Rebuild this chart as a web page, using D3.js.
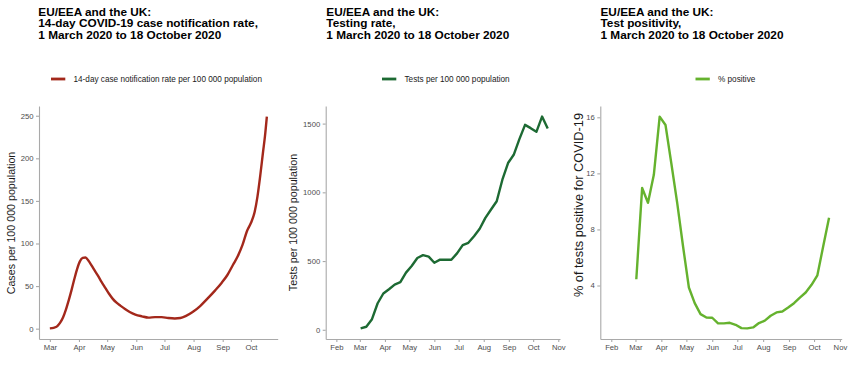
<!DOCTYPE html>
<html>
<head>
<meta charset="utf-8">
<script src="https://cdn.jsdelivr.net/npm/d3@7"></script>
<style>
  body { margin: 0; background: #fff; }
  svg { display: block; font-family: "Liberation Sans", Arial, sans-serif; }
</style>
</head>
<body>
<svg id="chart" width="850" height="387"></svg>
<script>
// 14-day notification rate
const caseDates = [
  "2020-03-01", "2020-03-05", "2020-03-09", "2020-03-12", "2020-03-15", "2020-03-18",
  "2020-03-21", "2020-03-24", "2020-03-27", "2020-03-30", "2020-04-02", "2020-04-05",
  "2020-04-08", "2020-04-11", "2020-04-14", "2020-04-17", "2020-04-21", "2020-04-25",
  "2020-04-29", "2020-05-03", "2020-05-07", "2020-05-11", "2020-05-15", "2020-05-20",
  "2020-05-25", "2020-05-31", "2020-06-07", "2020-06-14", "2020-06-21", "2020-06-28",
  "2020-07-05", "2020-07-12", "2020-07-18", "2020-07-24", "2020-07-31", "2020-08-08",
  "2020-08-16", "2020-08-24", "2020-08-31", "2020-09-06", "2020-09-12", "2020-09-17",
  "2020-09-22", "2020-09-27", "2020-10-01", "2020-10-05", "2020-10-08", "2020-10-11",
  "2020-10-14", "2020-10-16", "2020-10-18"
];
const caseRates = [
  0.3, 1, 3, 7, 13, 22,
  33, 45, 58, 70, 79, 83,
  83.5, 80, 75, 69.5, 62.5, 55,
  48, 41, 35, 30.5, 27, 23,
  19.5, 16.5, 14.5, 13, 13.5, 13.5,
  12.5, 12, 12.5, 15, 19.5, 26.5,
  35.5, 45, 54, 63, 75, 85,
  98, 115, 124, 137, 155, 180,
  208, 226, 249
];

// weekly series (middle and right panels)
const weekDates = [
  "2020-03-02", "2020-03-09", "2020-03-16", "2020-03-23", "2020-03-30", "2020-04-06",
  "2020-04-13", "2020-04-20", "2020-04-27", "2020-05-04", "2020-05-11", "2020-05-18",
  "2020-05-25", "2020-06-01", "2020-06-08", "2020-06-15", "2020-06-22", "2020-06-29",
  "2020-07-06", "2020-07-13", "2020-07-20", "2020-07-27", "2020-08-03", "2020-08-10",
  "2020-08-17", "2020-08-24", "2020-08-31", "2020-09-07", "2020-09-14", "2020-09-21",
  "2020-09-28", "2020-10-05", "2020-10-12", "2020-10-19"
];
const testRates = [
  10, 22, 77, 193, 264, 295, 329, 346, 416, 464, 522, 543,
  532, 488, 510, 510, 510, 556, 616, 633, 681, 735, 814, 875,
  935, 1092, 1213, 1273, 1387, 1491, 1467, 1440, 1551, 1464
];
const positivity = [
  4.45, 10.96, 9.9, 11.9, 16.05, 15.45, 12.7, 9.9, 6.8, 3.86, 2.74, 1.96,
  1.72, 1.7, 1.3, 1.3, 1.34, 1.2, 0.96, 0.94, 1.01, 1.32, 1.49, 1.84,
  2.08, 2.15, 2.43, 2.74, 3.14, 3.5, 4.05, 4.73, 6.8, 8.83
];

const weeklyLimits = ["2020-02-01", "2020-10-21"];

const caseMonths = ["Mar", "Apr", "May", "Jun", "Jul", "Aug", "Sep", "Oct"];
const weekMonths = ["Feb", "Mar", "Apr", "May", "Jun", "Jul", "Aug", "Sep", "Oct", "Nov"];
const caseTicks = [0, 50, 100, 150, 200, 250];
const testTicks = [0, 500, 1000, 1500];
const positivityTicks = [4, 8, 12, 16];

const parseDay = d3.timeParse("%Y-%m-%d");
const parseMonth = (m) => d3.timeParse("%b %d %Y")(`${m} 01 2020`);

const svg = d3.select("#chart");

// ggplot-like 5% expansion on both ends
function expand([a, b]) {
  const pad = (b - a) * 0.05;
  return [a - pad, b + pad];
}
function expandDates([a, b]) {
  const pad = (b - a) * 0.05;
  return [new Date(+a - pad), new Date(+b + pad)];
}

const panels = [
  {
    left: 39, right: 277.7, titleX: 38.3,
    title: ["EU/EEA and the UK:", "14-day COVID-19 case notification rate,", "1 March 2020 to 18 October 2020"],
    legend: "14-day case notification rate per 100 000 population", legendX: 51,
    color: "#a3281b",
    dates: caseDates, values: caseRates, xLimits: null, months: caseMonths, yTicks: caseTicks,
    yLabel: "Cases per 100 000 population", yLabelX: 14.6, yLabelY: 223, yLabelSize: 10.7,
    curve: d3.curveMonotoneX
  },
  {
    left: 325.7, right: 560, titleX: 326.3,
    title: ["EU/EEA and the UK:", "Testing rate,", "1 March 2020 to 18 October 2020"],
    legend: "Tests per 100 000 population", legendX: 382,
    color: "#1d6a33",
    dates: weekDates, values: testRates, xLimits: weeklyLimits, months: weekMonths, yTicks: testTicks,
    yLabel: "Tests per 100 000 population", yLabelX: 296.8, yLabelY: 222.5, yLabelSize: 10.7,
    curve: d3.curveLinear
  },
  {
    left: 600.3, right: 841.7, titleX: 600.5,
    title: ["EU/EEA and the UK:", "Test positivity,", "1 March 2020 to 18 October 2020"],
    legend: "% positive", legendX: 695.5,
    color: "#65b22e",
    dates: weekDates, values: positivity, xLimits: weeklyLimits, months: weekMonths, yTicks: positivityTicks,
    yLabel: "% of tests positive for COVID-19", yLabelX: 582.5, yLabelY: 205, yLabelSize: 12.8,
    curve: d3.curveLinear
  }
];

const plotTop = 106;
const plotBottom = 339;
const axisColor = "#a9a9a9";
const tickText = "#4d4d4d";

panels.forEach((p) => {
  const points = p.dates.map((d, i) => ({ date: parseDay(d), value: p.values[i] }));

  const xDomain = p.xLimits
    ? expandDates(p.xLimits.map(parseDay))
    : expandDates(d3.extent(points, (d) => d.date));
  const x = d3.scaleTime().domain(xDomain).range([p.left, p.right]);
  const y = d3.scaleLinear()
    .domain(expand(d3.extent(points, (d) => d.value)))
    .range([plotBottom, plotTop]);

  // title, tight line height as in the source
  const title = svg.append("text")
    .attr("x", p.titleX)
    .attr("y", 15.6)
    .attr("font-size", 11.8)
    .attr("font-weight", "bold")
    .attr("fill", "#000");
  p.title.forEach((line, i) => {
    title.append("tspan").attr("x", p.titleX).attr("dy", i === 0 ? 0 : 11.8).text(line);
  });

  // legend
  svg.append("line")
    .attr("x1", p.legendX).attr("x2", p.legendX + 14.3)
    .attr("y1", 79).attr("y2", 79)
    .attr("stroke", p.color).attr("stroke-width", 2.8);
  svg.append("text")
    .attr("x", p.legendX + 22.5).attr("y", 81.9)
    .attr("font-size", 8.2).attr("fill", "#1a1a1a")
    .text(p.legend);

  // axes
  const xAxis = svg.append("g")
    .attr("transform", `translate(0,${plotBottom})`)
    .call(d3.axisBottom(x)
      .tickValues(p.months.map(parseMonth))
      .tickFormat(d3.timeFormat("%b"))
      .tickSize(3).tickSizeOuter(0).tickPadding(2.5));

  const yAxis = svg.append("g")
    .attr("transform", `translate(${p.left},0)`)
    .call(d3.axisLeft(y)
      .tickValues(p.yTicks)
      .tickFormat(d3.format("d"))
      .tickSize(3).tickSizeOuter(0).tickPadding(2.5));

  [xAxis, yAxis].forEach((g) => {
    g.select(".domain").attr("stroke", axisColor).attr("stroke-width", 1.1);
    g.selectAll(".tick line").attr("stroke", axisColor).attr("stroke-width", 1.1);
    g.selectAll(".tick text")
      .attr("fill", tickText)
      .attr("font-size", 7.7)
      .attr("font-family", '"Liberation Sans", Arial, sans-serif');
  });

  svg.append("text")
    .attr("transform", `translate(${p.yLabelX},${p.yLabelY}) rotate(-90)`)
    .attr("text-anchor", "middle")
    .attr("font-size", p.yLabelSize)
    .attr("fill", "#1a1a1a")
    .text(p.yLabel);

  // series
  const line = d3.line()
    .x((d) => x(d.date))
    .y((d) => y(d.value))
    .curve(p.curve);

  svg.append("path")
    .datum(points)
    .attr("fill", "none")
    .attr("stroke", p.color)
    .attr("stroke-width", 2.4)
    .attr("stroke-linejoin", "round")
    .attr("stroke-linecap", "butt")
    .attr("d", line);
});
</script>
</body>
</html>
